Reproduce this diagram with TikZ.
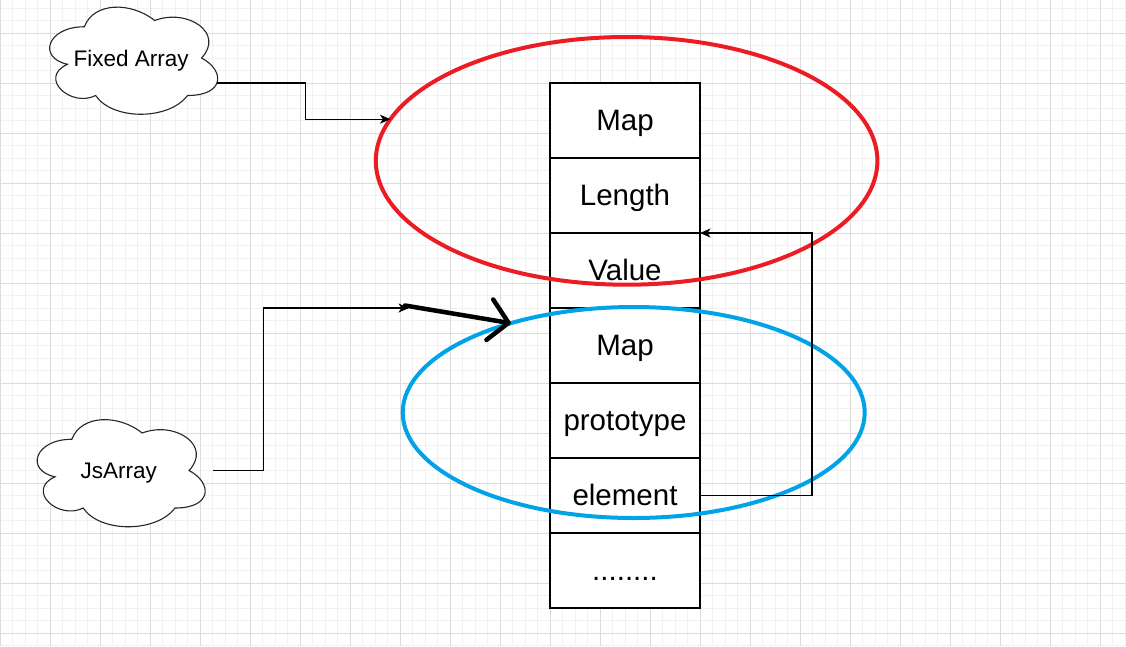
\documentclass[tikz,border=0pt]{standalone}
\usepackage{fontspec}
\setmainfont{Liberation Sans}
\usetikzlibrary{shapes.geometric, arrows.meta, positioning}
\definecolor{paintred}{HTML}{ED1C24}
\definecolor{paintblue}{HTML}{00A2E8}
\definecolor{gridminor}{HTML}{F1F1F1}
\definecolor{gridmajor}{HTML}{DCDCDC}

\tikzset{
  cell/.style={draw=black, line width=1.1pt, fill=white, minimum width=150pt, minimum height=75pt,
    inner sep=0pt, outer sep=0pt, font=\fontsize{29.5}{34}\selectfont, text height=20pt, text depth=0pt},
  cloudtext/.style={minimum width=187.5pt, minimum height=125pt, inner sep=0pt,
    font=\fontsize{22.5}{26}\selectfont, text height=16pt, text depth=0pt},
  cloudline/.style={draw=black!85, line width=1.1pt, fill=white},
  ring/.style={ellipse, draw, line width=4pt, inner sep=0pt, outer sep=0pt},
  link/.style={line width=1.1pt, -{Stealth[length=10.5pt, width=9pt, inset=3pt]}},
}

\begin{document}
\begin{tikzpicture}[x=1pt, y=-1pt]

    \useasboundingbox (0,0) rectangle (1126,646);
    \fill[white] (0,0) rectangle (1126,646);

    \foreach \i in {0,...,90} \draw[gridminor, line width=0.8pt] (12.5*\i,0) -- (12.5*\i,646);
    \foreach \j in {0,...,51} \draw[gridminor, line width=0.8pt] (0,8+12.5*\j) -- (1126,8+12.5*\j);
    \foreach \i in {0,...,22} \draw[gridmajor, line width=0.8pt] (50*\i,0) -- (50*\i,646);
    \foreach \j in {0,...,12} \draw[gridmajor, line width=0.8pt] (0,33+50*\j) -- (1126,33+50*\j);

    \begin{scope}[shift={(37.5,-4.5)}, x=187.5pt, y=-125pt]
        \draw[cloudline] (.25,.25) .. controls (.05,.25) and (0,.5) .. (.16,.55)
            .. controls (0,.66) and (.18,.9) .. (.31,.8)
            .. controls (.4,1) and (.7,1) .. (.8,.8)
            .. controls (1,.8) and (1,.6) .. (.875,.5)
            .. controls (1,.3) and (.8,.1) .. (.625,.2)
            .. controls (.5,.05) and (.3,.05) .. (.25,.25) -- cycle;
        \coordinate (fixed out) at (.957,.7);
    \end{scope}
    \node[cloudtext] (fixed) at (131.25,58) {Fixed Array};

    \begin{scope}[shift={(25,408)}, x=187.5pt, y=-125pt]
        \draw[cloudline] (.25,.25) .. controls (.05,.25) and (0,.5) .. (.16,.55)
            .. controls (0,.66) and (.18,.9) .. (.31,.8)
            .. controls (.4,1) and (.7,1) .. (.8,.8)
            .. controls (1,.8) and (1,.6) .. (.875,.5)
            .. controls (1,.3) and (.8,.1) .. (.625,.2)
            .. controls (.5,.05) and (.3,.05) .. (.25,.25) -- cycle;
    \end{scope}
    \node[cloudtext] (js) at (118.75,470.5) {JsArray};

    \node[cell] (map) at (625,120.5) {Map};
    \node[cell, below=0pt of map] (length) {Length};
    \node[cell, below=0pt of length] (value) {Value};
    \node[cell, below=0pt of value] (jsmap) {Map};
    \node[cell, below=0pt of jsmap] (proto) {prototype};
    \node[cell, below=0pt of proto] (element) {element};
    \node[cell, below=0pt of element] (rest) {........};

    \node[ring, draw=paintred, minimum width=501.6pt, minimum height=247.7pt] (redring) at (626.6,160.85) {};
    \node[ring, draw=paintblue, minimum width=462pt, minimum height=211pt] (bluering) at (633.7,412.5) {};

    \coordinate (js tip) at (409,308);
    \coordinate (stroke start) at (405,305.5);

    \draw[link] (fixed out) -- ++(89,0) |- (redring.170.5);
    \draw[link] (js.east) -- ++(50.5,0) |- (js tip);
    \draw[link] (element.east) -- ++(112,0) |- (value.north east);

    \draw[line width=4.5pt, line cap=round, -{Straight Barb[length=19pt, width=41pt, round]}] (stroke start) -- (bluering.144);

\end{tikzpicture}
\end{document}
